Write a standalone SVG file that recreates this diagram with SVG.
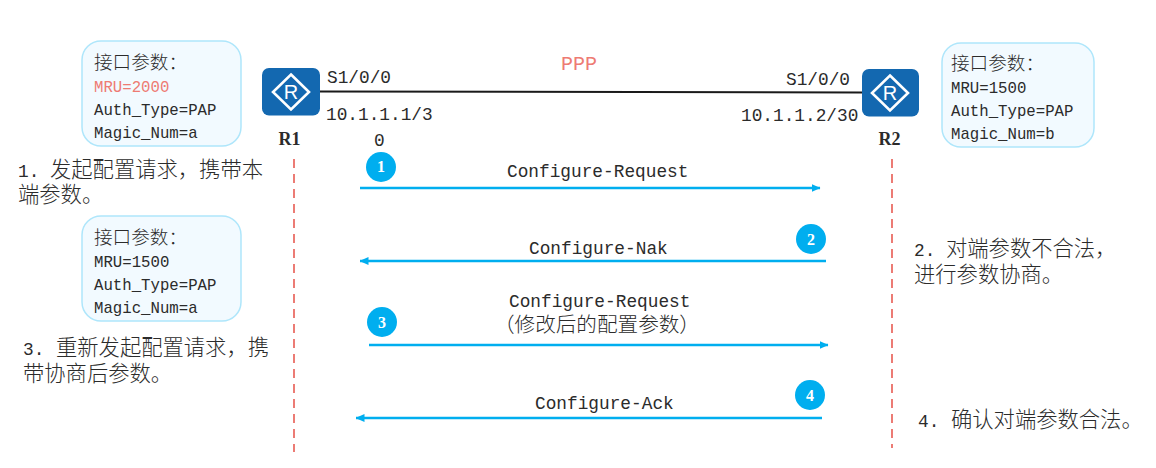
<svg xmlns="http://www.w3.org/2000/svg" width="1156" height="468" viewBox="0 0 1156 468">
<style>
text{font-family:"Liberation Mono","Noto Sans CJK SC",monospace;fill:#2b2b2b}
.l{font-size:17.8px}
.b{font-size:15.7px}
.c{font-family:"Noto Sans CJK SC","Liberation Sans",sans-serif;font-size:21.3px;font-weight:300}
.bc{font-family:"Noto Sans CJK SC","Liberation Sans",sans-serif;font-size:18.6px;font-weight:300}
.lat{font-family:"Liberation Mono",monospace;font-size:17.8px}
.box{fill:#f2faff;stroke:#aee6fb;stroke-width:1.5}
.rt{fill:#1368b0}
.dia{fill:none;stroke:#fff;stroke-width:2.6}
.life{stroke:#ea6e66;stroke-width:1.8;stroke-dasharray:9 6;fill:none}
.msg{stroke:#00aeef;stroke-width:2.5;fill:none}
.dot{fill:#00aeef}
.n{font-family:"Liberation Serif",serif;font-size:16px;font-weight:bold;fill:#fff;text-anchor:middle}
.rn{font-family:"Liberation Serif",serif;font-size:18px;font-weight:bold;text-anchor:middle}
.ri{font-family:"Liberation Sans",sans-serif;font-size:20px;fill:#fff;text-anchor:middle}
</style>
<defs>
<marker id="ah" viewBox="0 0 9 8" refX="8.500" refY="4" markerWidth="9" markerHeight="8" markerUnits="userSpaceOnUse" orient="auto-start-reverse"><path d="M0 0L9 4L0 8Z" fill="#00aeef"/></marker>
</defs>
<g id="connectors">
<line x1="320" y1="91.500" x2="862" y2="92.500" stroke="#1a1a1a" stroke-width="2"/>
<line class="life" x1="294" y1="159" x2="294" y2="452"/>
<line class="life" x1="892" y1="159" x2="892" y2="448"/>
<line class="msg" x1="360" y1="188" x2="820" y2="188" marker-end="url(#ah)"/>
<line class="msg" x1="826" y1="261" x2="360" y2="261" marker-end="url(#ah)"/>
<line class="msg" x1="369" y1="345" x2="828" y2="345" marker-end="url(#ah)"/>
<line class="msg" x1="822" y1="418" x2="356" y2="418" marker-end="url(#ah)"/>
</g>
<g id="R1">
<rect class="rt" x="262" y="68" width="58" height="47.500" rx="7"/>
<path class="dia" d="M291 74.500L309 92L291 109.500L273 92Z"/>
<text class="ri" x="291" y="99">R</text>
<text class="rn" x="289.500" y="145">R1</text>
</g>
<g id="R2">
<rect class="rt" x="862" y="69" width="57" height="47.500" rx="7"/>
<path class="dia" d="M890 75.500L908 93L890 110.500L872 93Z"/>
<text class="ri" x="890" y="100">R</text>
<text class="rn" x="889.500" y="145">R2</text>
</g>
<g id="link-labels">
<text class="l" x="327" y="83">S1/0/0</text>
<text class="l" x="326" y="120">10.1.1.1/3</text>
<text class="l" x="374" y="146">0</text>
<text class="l" x="786" y="85">S1/0/0</text>
<text class="l" x="741" y="121">10.1.1.2/30</text>
<text x="561" y="70" style="font-size:20px;fill:#ee7b73">PPP</text>
</g>
<g id="box1">
<rect class="box" x="82" y="41" width="159" height="105" rx="19"/>
<text class="bc" x="94" y="69">接口参数：</text>
<text class="b" x="94" y="92" style="fill:#ee7b73">MRU=2000</text>
<text class="b" x="94" y="115">Auth_Type=PAP</text>
<text class="b" x="94" y="138">Magic_Num=a</text>
</g>
<g id="box2">
<rect class="box" x="942" y="43" width="152" height="104" rx="19"/>
<text class="bc" x="951" y="70">接口参数：</text>
<text class="b" x="951" y="93">MRU=1500</text>
<text class="b" x="951" y="116">Auth_Type=PAP</text>
<text class="b" x="951" y="139">Magic_Num=b</text>
</g>
<g id="box3">
<rect class="box" x="82" y="216" width="159" height="105" rx="19"/>
<text class="bc" x="94" y="244">接口参数：</text>
<text class="b" x="94" y="267">MRU=1500</text>
<text class="b" x="94" y="290">Auth_Type=PAP</text>
<text class="b" x="94" y="313">Magic_Num=a</text>
</g>
<g id="notes">
<text class="c" x="18" y="177"><tspan class="lat">1.</tspan><tspan x="50">发起配置请求，携带本</tspan></text>
<text class="c" x="18" y="202">端参数。</text>
<text class="c" x="914" y="256"><tspan class="lat">2.</tspan><tspan x="946">对端参数不合法，</tspan></text>
<text class="c" x="914" y="282">进行参数协商。</text>
<text class="c" x="23" y="355"><tspan class="lat">3.</tspan><tspan x="56">重新发起配置请求，携</tspan></text>
<text class="c" x="23" y="381">带协商后参数。</text>
<text class="c" x="918" y="427"><tspan class="lat">4.</tspan><tspan x="951">确认对端参数合法。</tspan></text>
</g>
<g id="msg-labels">
<text class="l" x="507" y="177">Configure-Request</text>
<text class="l" x="529" y="254">Configure-Nak</text>
<text class="l" x="509" y="307">Configure-Request</text>
<text class="c" x="494" y="332" style="font-size:20.600px">（修改后的配置参数）</text>
<text class="l" x="535" y="409">Configure-Ack</text>
</g>
<g id="step1"><circle class="dot" cx="381" cy="167" r="15"/><text class="n" x="381" y="172">1</text></g>
<g id="step2"><circle class="dot" cx="811" cy="239" r="15"/><text class="n" x="811" y="244.500">2</text></g>
<g id="step3"><circle class="dot" cx="382" cy="322" r="15"/><text class="n" x="382" y="327.500">3</text></g>
<g id="step4"><circle class="dot" cx="810" cy="395" r="15"/><text class="n" x="810" y="400.500">4</text></g>
</svg>
